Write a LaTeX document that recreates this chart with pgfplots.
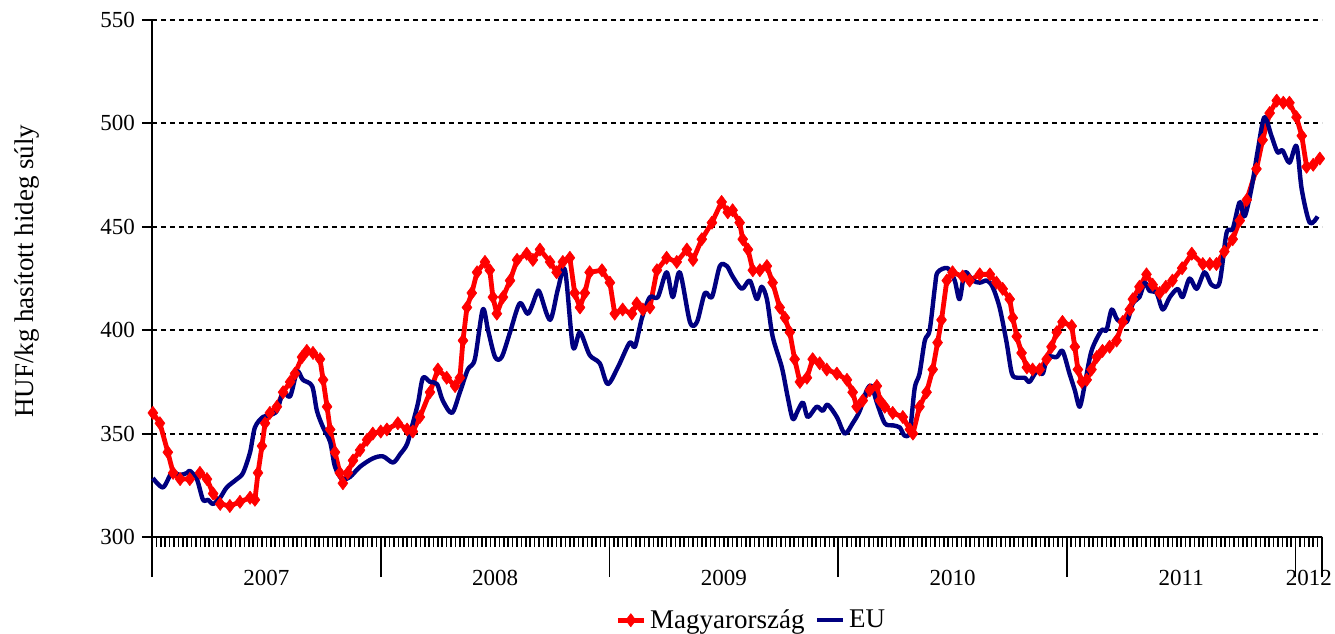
\documentclass[border=0pt]{standalone}
\usepackage{fontspec}
\setmainfont{Liberation Serif}
\usepackage{pgfplots}
\usepackage{pgfplotstable}
\pgfplotsset{compat=1.18}
\definecolor{mred}{RGB}{255,0,0}
\definecolor{eublue}{RGB}{0,0,128}
\newcommand\cf{\fontsize{11.5}{13.8}\selectfont}
\newcommand\lf{\fontsize{13.5}{16}\selectfont}

\pgfplotstableread{
w v
0.2 360
1.8 355
3.6 341
4.8 331
6.4 328
8.6 328
10.9 331
12.5 328
13.9 321
15.5 316
17.7 315
20.0 317
22.3 319
23.4 318
24.1 331
25.0 344
25.7 355
26.8 360
28.4 363
29.8 370
31.4 375
32.5 379
34.1 387
35.2 390
36.6 389
38.2 386
38.9 376
39.8 363
40.5 352
41.6 341
42.7 331
43.4 326
44.5 331
45.7 337
47.3 342
48.9 347
50.2 350
52.0 351
53.4 352
55.9 355
58.0 352
59.3 351
60.9 358
63.2 370
65.0 381
67.0 377
68.9 373
70.0 377
70.7 395
71.6 411
72.7 418
73.9 428
75.7 433
76.8 429
77.5 416
78.4 408
79.8 416
81.4 424
83.0 434
85.2 437
86.6 434
88.2 439
90.5 433
92.0 428
93.4 433
95.0 435
96.1 418
97.3 411
98.4 418
99.5 428
102.3 429
104.1 423
105.2 408
107.0 410
109.1 408
110.2 413
111.6 410
113.2 411
114.8 429
117.0 435
119.3 433
121.6 439
123.0 434
125.0 444
127.3 452
129.5 462
130.9 457
132.0 458
133.6 452
134.3 444
135.5 439
136.6 429
138.2 429
139.8 431
141.1 423
142.7 411
143.9 406
145.0 399
146.1 386
147.3 375
148.9 377
150.2 386
151.8 384
153.4 381
155.7 379
158.0 376
159.3 370
160.2 363
161.6 366
163.2 371
164.8 373
165.5 366
166.6 363
168.4 360
170.7 358
172.3 352
173.0 350
174.5 363
176.1 370
177.5 381
178.6 394
179.5 405
180.7 424
182.0 428
184.3 426
185.9 424
188.2 427
190.5 427
192.0 423
193.4 420
195.0 415
195.7 406
196.6 397
197.7 389
198.9 382
200.2 381
201.8 381
203.4 386
204.5 392
205.7 399
207.0 404
209.1 402
209.8 392
210.5 381
211.4 375
212.5 376
213.6 381
214.8 387
216.1 390
217.7 392
219.3 395
220.7 404
222.3 410
223.0 415
224.5 421
226.1 427
227.5 422
229.1 418
230.5 421
232.0 424
234.2 430
236.4 437
238.9 432
240.5 432
242.0 432
243.8 438
245.7 444
247.3 453
248.9 463
251.1 478
252.5 492
254.1 505
255.7 511
257.2 510
258.6 510
260.2 503
261.4 494
262.5 479
264.0 480
265.5 483
}\hudata

\pgfplotstableread{
w v
0.2 328.5
2.5 324
4.5 331
6.4 330
8.0 331
8.6 332
10.2 328
11.6 318
12.7 318
13.9 316
15.5 319
17.0 324
19.3 328
20.7 331
22.3 341
23.4 353
25.2 358
26.8 359
28.4 361
29.8 370
31.4 368
33.0 380
34.3 376
36.4 373
37.5 361
38.9 353
40.5 346
41.6 334
43.2 328
45.0 329
47.3 334
50.2 338
52.5 339
54.8 336
56.4 340
58.0 345
59.3 355
60.5 365
61.6 377
63.2 375
64.8 374
66.1 366
68.2 360
70.0 370
71.8 381
73.4 386
75.2 410
76.4 400
78.0 387
79.5 387
81.4 399
83.6 413
85.5 408
87.5 418
88.2 418
90.5 405
92.3 420
93.9 429
95.7 392
97.3 399
99.5 388
101.8 384
103.6 374
105.9 382
108.6 394
109.8 392
111.4 406
113.2 416
115.0 416
117.0 428
118.4 416
120.0 428
122.3 404
123.9 404
125.7 418
127.3 416
129.1 431
130.7 431
132.0 426
134.1 420
135.9 424
137.5 415
138.6 421
139.8 415
141.1 397
143.2 382
144.5 368
145.7 357
146.8 361
148.0 365
149.1 358
151.1 363
152.5 361
153.6 364
155.7 358
157.5 350
159.3 355
160.9 361
162.5 371
163.6 373
164.8 365
166.6 355
168.4 354
170.0 353
171.1 349
172.3 351
173.4 372
174.5 379
175.7 395
176.8 400
178.0 421
178.6 428
180.9 430
182.5 424
183.6 415
184.8 428
186.6 424
188.2 423
189.8 424
191.1 421
192.7 411
194.3 394
195.5 379
196.8 377
198.4 377
199.5 375
201.1 380
202.5 379
203.6 387
205.7 387
207.0 390
208.6 379
209.8 371
210.9 363
212.0 373
213.6 390
215.9 400
217.0 400
218.2 410
219.5 405
221.6 404
223.0 413
224.5 416
225.7 423
226.8 419
228.4 418
229.8 410
231.4 416
233.2 420
234.3 416
235.9 425
237.5 420
239.3 428
240.9 422
242.7 423
244.3 447
245.7 449
247.3 462
248.4 455
250.0 469
251.4 487
252.9 503
254.5 494
255.9 486
257.0 487
258.6 481
260.2 489
261.4 468
263.2 452
265.0 455
}\eudata

\begin{document}
\begin{tikzpicture}
\useasboundingbox (-76pt,-48pt) rectangle (591.5pt,268.5pt);
\begin{axis}[
  at={(0,0)}, anchor=south west,
  scale only axis, width=585pt, height=258.5pt,
  xmin=0, xmax=266, ymin=300, ymax=550,
  axis x line*=bottom, axis y line*=left,
  axis line style={line width=1pt,-,black},
  ytick={300,350,...,550},
  ymajorgrids,
  major grid style={black, line width=1pt, dash pattern=on 2.5pt off 2pt},
  tick align=outside,
  major tick length=5pt,
  minor tick length=5pt,
  ytick style={line width=1pt, black},
  xtick={0,52,104,156,208,260,266},
  xticklabels={},
  xtick style={line width=0.8pt, black, /pgfplots/major tick length=20pt},
  minor xtick={0,1,...,266},
  minor x tick style={line width=0.8pt, black},
  extra x ticks={26,78,130,182,234,263},
  extra x tick labels={2007,2008,2009,2010,2011,2012},
  extra x tick style={xtick style={draw=none}, xticklabel style={anchor=north, yshift=-8pt}},
  /pgf/number format/assume math mode=true,
  ticklabel style={font=\cf},
  ylabel={HUF/kg hasított hideg súly},
  ylabel style={at={(axis description cs:-0.107,0.514)}, anchor=center, font=\lf},
  legend image code/.code={\draw[mark repeat=2,mark phase=2] plot coordinates {(0pt,0pt)(6.5pt,0pt)(13pt,0pt)};},
  legend style={at={(axis description cs:0.513,-0.161)}, anchor=center, draw=none, fill=none,
    font=\lf, legend columns=-1, inner sep=0pt,
    /tikz/every even column/.append style={column sep=3pt}},
  clip=false,
]
\addplot[color=mred, line width=2.4pt, line join=round, mark=diamond*, mark size=3.3pt,
  mark options={solid, fill=mred, draw=mred, line width=0.3pt}] table[x=w,y=v] {\hudata};
\addlegendentry{Magyarország}
\addplot[color=eublue, line width=2.2pt, smooth, no markers, line join=round] table[x=w,y=v] {\eudata};
\addlegendentry{EU}
\end{axis}
\end{tikzpicture}
\end{document}
